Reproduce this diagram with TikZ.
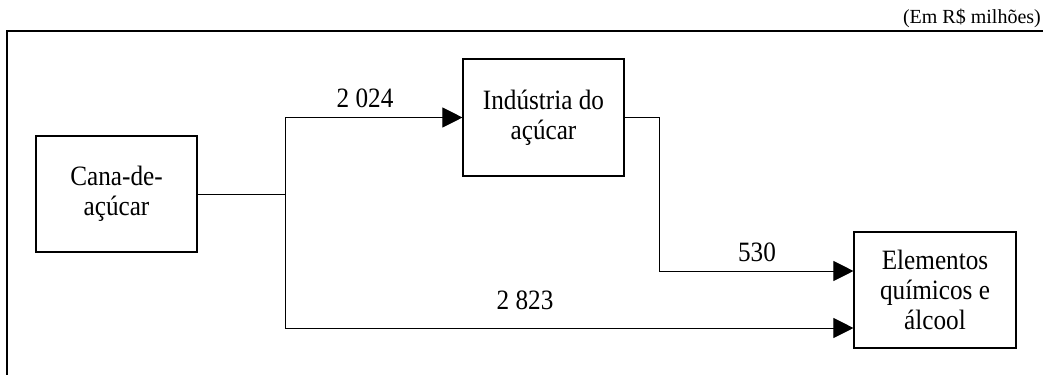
\documentclass[tikz,border=0pt]{standalone}
\usepackage{fontspec}
\setmainfont{Liberation Serif}[FakeStretch=0.9]
\newfontfamily\notefont{Liberation Serif}
\usetikzlibrary{positioning, arrows.meta}

\begin{document}
\begin{tikzpicture}[x=1bp, y=-1bp,
  box/.style={draw, line width=1.1pt, rectangle, align=center, inner sep=0pt,
    font=\fontsize{28bp}{30bp}\selectfont},
  val/.style={font=\fontsize{28bp}{30bp}\selectfont, inner sep=0pt},
  arr/.style={line width=0.9pt, -{Triangle[length=20bp, width=20bp]}}]
\useasboundingbox (0,0) rectangle (1043,374);

\node (unit) [anchor=base east, inner sep=0pt, font=\notefont\fontsize{20bp}{22bp}\selectfont] at (1041,23) {(Em R\$ milhões)};
\draw[line width=1.5pt] (1050,31) -- (7,31) -- (7,380);

\node[box, minimum width=161bp, minimum height=116bp] (cana) at (116.5,194) {Cana-de-\\açúcar};
\node[box, minimum width=161bp, minimum height=117bp] (industria) at (543.5,117.5) {Indústria do\\açúcar};
\node[box, minimum width=162bp, minimum height=116bp] (elementos) at (935,290) {Elementos\\químicos e\\álcool};

\coordinate (split) at (285,194);

\draw[line width=0.9pt] (cana) -- (split);
\draw[arr] (split) |- (industria);
\draw[arr] (split) |- ([yshift=-38bp]elementos.west);
\draw[arr] (industria.east) -- ++(35,0) |- ([yshift=19bp]elementos.west);

\node[val] (v2024) at (365,98) {2 024};
\node[val] (v530) at (757,252) {530};
\node[val] (v2823) at (525,300) {2 823};
\end{tikzpicture}
\end{document}
